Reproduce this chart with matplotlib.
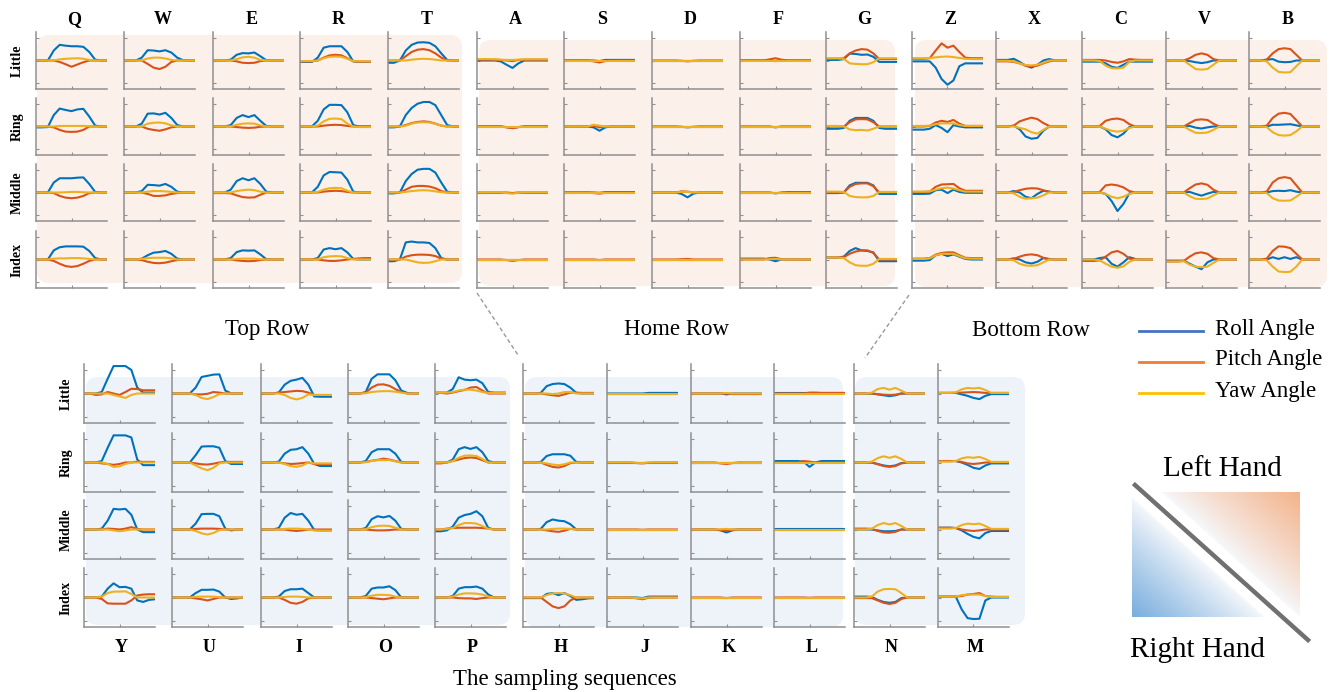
import numpy as np
import matplotlib.pyplot as plt
from matplotlib.patches import FancyBboxPatch
from matplotlib.lines import Line2D

plt.rcParams['font.family'] = ['Liberation Serif', 'DejaVu Serif']

# 13 samples per trace, values in units where 10 = half the panel height
SAMPLE_IDX = list(range(13))
FLAT = [0, 0, 0, 0, 0, 0, 0, 0, 0, 0, 0, 0, 0]

FINGERS = ['Little', 'Ring', 'Middle', 'Index']
ANGLES = ['Roll Angle', 'Pitch Angle', 'Yaw Angle']

# each key: 4 fingers (Little, Ring, Middle, Index) x [roll, pitch, yaw]
Q = [
    [[0, 0, 0, 3.5, 5.5, 5.2, 5, 5, 4.8, 3, 0.3, 0, 0], [0, 0, 0, 0, -0.5, -1.3, -2.2, -1.4, -0.6, 0, 0, 0, 0], [0, 0, 0, 0, 0.4, 0.6, 0.7, 0.8, 0.6, 0.2, 0, 0, 0]],
    [[-0.3, -0.3, -0.2, 4, 6.3, 5.8, 5.4, 6, 6.2, 3.5, 0.3, 0, 0], [0, 0, 0, -0.3, -1.2, -1.8, -1.9, -1.8, -1.2, 0, 0, 0, 0], [0, 0, 0, 0, 0.2, 0.2, 0.2, 0.2, 0.2, 0.1, 0, 0, 0]],
    [[0, 0, 0, 3.5, 5, 5, 5, 5.2, 5.3, 3, 0.2, 0, 0], [0, 0, 0, -0.2, -1.2, -1.8, -2, -1.8, -1.2, -0.2, 0, 0, 0], [0, 0, 0, 0, 0, 0.1, 0.2, 0.2, 0.1, 0, 0, 0, 0]],
    [[0, 0, 0, 3.2, 4.3, 4.6, 4.6, 4.6, 4.5, 3, 0.5, 0, 0], [0, 0, 0, -0.5, -1.5, -2.3, -2.6, -2.3, -1.5, -0.5, 0, 0, 0], [0, 0, 0, 0.3, 0.4, 0.4, 0.5, 0.5, 0.4, 0.2, 0, 0, 0]],
]
W_ = [
    [[0, 0, 0, 1, 3.6, 3.5, 3.2, 3.6, 2.8, 1, 0.1, 0, 0], [0, 0, 0, 0, -1.2, -2.5, -3, -2.2, -0.5, 0, 0, 0, 0], [0, 0, 0, 0, 0.7, 1, 1, 0.7, 0.2, 0, 0, 0, 0]],
    [[0, 0, 0, 1, 4.5, 4.6, 4.2, 4.8, 3, 0.5, 0, 0, 0], [0, 0, 0, 0, -0.8, -1.2, -1.5, -1, -0.3, 0, 0, 0, 0], [0, 0, 0, 0, 1, 1.3, 1.4, 1.1, 0.4, 0, 0, 0, 0]],
    [[0, 0, 0, 0.5, 2.7, 2.6, 2.4, 3, 2, 0.3, 0, 0, 0], [0, 0, 0, 0, -0.5, -1.2, -1.2, -1, -0.5, -0.2, 0, 0, 0], [0, 0, 0, 0, 0.3, 0.5, 0.5, 0.4, 0.2, 0, 0, 0, 0]],
    [[0, 0, 0, 0.3, 1.5, 2.4, 2.6, 3, 2, 0.3, 0, 0, 0], [0, 0, 0, -0.2, -0.8, -1.2, -1.3, -1.1, -0.6, -0.2, 0, 0, 0], [0, 0, 0, 0.2, 0.5, 0.6, 0.6, 0.6, 0.4, 0, 0, 0, 0]],
]
E = [
    [[0, 0, 0, 0.3, 2, 2.6, 2.5, 2.8, 1.5, 0.1, 0, 0, 0], [0, 0, 0, 0, -0.3, -0.8, -0.9, -0.8, -0.2, 0, 0, 0, 0], [0, 0, 0, 0, 0.5, 1.1, 1.3, 1, 0.2, 0, 0, 0, 0]],
    [[0, 0, 0, 0.5, 3, 4, 3.3, 4, 2, 0.2, 0, 0, 0], [0, 0, 0, 0, -0.2, -0.4, -0.5, -0.4, -0.1, 0, 0, 0, 0], [0, 0, 0, 0, 0.6, 1, 1.1, 1, 0.4, 0, 0, 0, 0]],
    [[0, 0, 0, 1, 4, 5, 4.3, 5, 3, 0.3, 0, 0, 0], [-0.2, -0.2, -0.2, -0.3, -1, -1.6, -1.8, -1.7, -0.8, 0, 0, 0, 0], [0, 0, 0, 0, 0.5, 0.8, 1, 0.8, 0.3, 0, 0, 0, 0]],
    [[0, 0, 0, 0.5, 2.6, 3.2, 3.1, 3.2, 1.8, 0.1, 0, 0, 0], [0, 0, 0, 0, -0.3, -0.5, -0.6, -0.5, -0.2, 0, 0, 0, 0], [0, 0, 0, 0, 0.2, 0.3, 0.3, 0.3, 0.1, 0, 0, 0, 0]],
]
R = [
    [[-0.5, -0.5, -0.5, 1, 4.5, 5, 5, 5, 3, -0.3, -0.5, -0.5, -0.5], [-0.3, -0.3, -0.3, 0, 1, 1.8, 2, 1.8, 0.8, -0.3, -0.4, -0.4, -0.4], [-0.2, -0.2, -0.2, 0, 0.8, 1.3, 1.4, 1.3, 0.6, -0.2, -0.3, -0.3, -0.3]],
    [[0, 0, 0, 2, 6, 7.6, 7.6, 7.5, 5, 0.5, 0, 0, 0], [0, 0, 0, 0, 0.3, 0.5, 0.6, 0.5, 0.2, 0, 0, 0, 0], [0, 0, 0, 0.3, 1.8, 2.7, 2.8, 2.6, 1, 0, -0.2, -0.2, -0.2]],
    [[0, 0, 0, 2, 6, 7.2, 7.1, 7, 4.5, 0.3, 0, 0, 0], [0, 0, 0, 0, 0.3, 0.5, 0.6, 0.5, 0.2, 0, 0, 0, 0], [0, 0, 0, 0.2, 1, 1.5, 1.6, 1.5, 0.6, 0, 0, 0, 0]],
    [[0, 0, 0, 0.5, 3.5, 4, 3.6, 4, 2.5, 0.2, 0, 0, 0], [0, 0, 0, 0, -0.3, -0.5, -0.5, -0.3, 0, 0.2, 0.4, 0.5, 0.5], [0, 0, 0, 0, 0.8, 1.1, 1.2, 1.1, 0.5, 0, 0, 0, 0]],
]
T = [
    [[-0.8, -0.8, 0, 3.5, 5.5, 6.3, 6.4, 6.2, 5, 2.5, 0.2, 0, 0], [0, 0, 0, 1.5, 3, 3.8, 4, 3.6, 2.5, 1, 0, 0, 0], [0, 0, 0, 0, 0.3, 0.5, 0.6, 0.5, 0.3, 0, 0, 0, 0]],
    [[-0.3, -0.3, 0, 4, 6.5, 8, 8.6, 8.6, 7.5, 4, 0.5, 0, 0], [0, 0, 0, 0.5, 1.2, 1.6, 1.8, 1.6, 1, 0.3, 0, 0, 0], [0, 0, 0, 0.3, 1, 1.4, 1.5, 1.4, 0.9, 0.3, 0, 0, 0]],
    [[-0.3, -0.3, 0, 4, 6.5, 8, 8.3, 8.3, 7, 3.5, 0.3, 0, 0], [0, 0, 0, 1, 2, 2.3, 2.3, 2.1, 1.5, 0.5, 0, 0, 0], [0, 0, 0, 0.2, 0.5, 0.7, 0.8, 0.7, 0.4, 0.1, 0, 0, 0]],
    [[-0.6, -0.6, 0, 6, 6.3, 6, 6, 5.8, 4, 0.5, 0, 0, 0], [0, 0, 0, 1, 1.5, 1.7, 1.7, 1.6, 1.2, 0.3, 0, 0, 0], [0, 0, 0, 0, -0.5, -1, -1.2, -1.1, -0.6, 0, 0, 0, 0]],
]
A = [
    [[0, 0, 0, 0, -0.3, -1.5, -2.6, -1, 0, 0, 0, 0, 0], [0.3, 0.3, 0.3, 0.3, 0.2, 0, -0.2, 0.2, 0.3, 0.3, 0.3, 0.3, 0.3], [0.5, 0.5, 0.5, 0.4, 0.3, 0.2, 0.2, 0.3, 0.4, 0.4, 0.4, 0.4, 0.4]],
    [[0, 0, 0, 0, 0, -0.2, -0.5, -0.2, 0, 0, 0, 0, 0], [0, 0, 0, 0, 0, -0.3, -0.6, -0.2, 0, 0, 0, 0, 0], FLAT],
    [FLAT, [0, 0, 0, 0, 0, 0, -0.2, 0, 0, 0, 0, 0, 0], [0, 0, 0, 0, 0, -0.2, -0.4, -0.1, 0, 0, 0, 0, 0]],
    [FLAT, [0, 0, 0, 0, 0, -0.2, -0.5, -0.2, 0, 0, 0, 0, 0], FLAT],
]
S = [
    [[0, 0, 0, 0, 0, 0, -0.2, 0.2, 0.2, 0.2, 0.2, 0.2, 0.2], [0, 0, 0, 0, 0, -0.3, -0.7, -0.2, 0, 0, 0, 0, 0], FLAT],
    [[0, 0, 0, 0, 0, -0.3, -1.5, -0.3, 0, 0, 0, 0, 0], [0, 0, 0, 0, 0, 0.3, -0.3, 0, 0, 0, 0, 0, 0], [0, 0, 0, 0, 0, 0.6, 0.3, 0, 0, 0, 0, 0, 0]],
    [[0, 0, 0, 0, 0, 0, -0.1, 0.1, 0.1, 0.1, 0.1, 0.1, 0.1], [0, 0, 0, 0, 0, -0.2, -0.4, -0.1, 0, 0, 0, 0, 0], FLAT],
    [FLAT, [0, 0, 0, 0, 0, 0, -0.2, 0, 0, 0, 0, 0, 0], FLAT],
]
D = [
    [FLAT, [0, 0, 0, 0, 0, -0.1, -0.3, -0.1, 0, 0, 0, 0, 0], FLAT],
    [[0, 0, 0, 0, 0, -0.1, -0.3, -0.1, 0, 0, 0, 0, 0], FLAT, FLAT],
    [[0, 0, 0, 0, 0, -0.5, -1.7, -0.4, 0, 0, 0, 0, 0], [0, 0, 0, 0, 0, 0.4, 0.3, 0, 0, 0, 0, 0, 0], [0, 0, 0, 0, 0, 0.2, 0.2, 0, 0, 0, 0, 0, 0]],
    [FLAT, [0, 0, 0, 0, 0, 0.1, 0.2, 0, 0, 0, 0, 0, 0], FLAT],
]
F = [
    [[0, 0, 0, 0, 0, 0, -0.2, 0, 0, 0, 0, 0, 0], [0, 0, 0, 0, 0, 0.4, 0.8, 0.3, 0, 0, 0, 0, 0], FLAT],
    [[0, 0, 0, 0, 0, 0, -0.3, 0, 0, 0, 0, 0, 0], FLAT, FLAT],
    [[0, 0, 0, 0, 0, 0, -0.3, 0, 0.1, 0.1, 0.1, 0.1, 0.1], FLAT, FLAT],
    [[0.3, 0.3, 0.3, 0.3, 0.3, 0, -0.6, 0, 0, 0, 0, 0, 0], [0, 0, 0, 0, 0, 0.5, 0.6, 0.1, 0, 0, 0, 0, 0], [0, 0, 0, 0, 0, 0.1, 0.2, 0, 0, 0, 0, 0, 0]],
]
G = [
    [[0.2, 0.2, 0.2, 0.5, 2.4, 2.3, 2, 2.1, 1.3, -0.5, -0.5, -0.5, -0.5], [0.6, 0.6, 0.6, 0.8, 2.5, 3.5, 4, 3.8, 2.5, 0.5, 0.5, 0.5, 0.5], [0.8, 0.8, 0.8, 0.6, -1, -1.2, -1.3, -1.3, -0.6, 0.8, 0.8, 0.8, 0.8]],
    [[-0.8, -0.8, -0.8, -0.5, 2, 3, 3, 3, 2, -0.5, -0.8, -0.8, -0.8], [0, 0, 0, 0, 1.5, 2.5, 2.6, 2.5, 1.5, 0, 0, 0, 0], [0.2, 0.2, 0.2, 0, -1, -1.3, -1.2, -1.4, -0.8, 0, 0, 0, 0]],
    [[-0.2, -0.2, -0.2, 0, 2.5, 3.4, 3.4, 3.4, 2.5, -0.5, -0.5, -0.5, -0.5], [0, 0, 0, 0, 2, 3, 3.2, 3.2, 2.2, 0, 0, 0, 0], [0.3, 0.3, 0.3, 0.2, -1.2, -1.6, -1.7, -1.7, -1.2, 0.2, 0.2, 0.2, 0.2]],
    [[0.7, 0.7, 0.7, 1, 3, 4, 3.2, 3, 2.5, -0.6, -0.6, -0.6, -0.6], [0.7, 0.7, 0.7, 0.8, 2, 2.8, 3.2, 3.2, 2.3, 0, 0, 0, 0], [0.7, 0.7, 0.7, 0.5, -1, -2, -2.2, -2.2, -1.5, 0.2, 0.2, 0.2, 0.2]],
]
Z = [
    [[-0.3, -0.3, -0.3, -0.3, -2.5, -6.5, -8.5, -7, -2, -1, -1, -1, -1], [0.6, 0.6, 0.6, 0.8, 3.5, 6, 4.5, 5.2, 3, 1, 0.8, 0.8, 0.8], [0.8, 0.8, 0.8, 0.9, 1.1, 1.3, 1.4, 1.2, 0.9, 0.6, 0.5, 0.5, 0.5]],
    [[-1.1, -1.1, -1.1, -0.8, 0.5, -0.5, -2, 0.5, 0, -0.3, -0.3, -0.3, -0.3], [0, 0, 0, 0.2, 1.4, 2, 1.6, 2.3, 1, 0.2, 0.2, 0.2, 0.2], [0.2, 0.2, 0.2, 0.3, 0.8, 1.1, 1.1, 1.1, 0.5, 0.2, 0.2, 0.2, 0.2]],
    [[-0.5, -0.5, -0.5, -0.4, 0.8, 1, -0.2, 1, 0.2, -0.1, -0.1, -0.1, -0.1], [0.2, 0.2, 0.2, 0.3, 2, 2.8, 2.9, 3, 1.5, 0.6, 0.6, 0.6, 0.6], [0.3, 0.3, 0.3, 0.4, 1, 1.5, 1.7, 1.4, 0.8, 0.3, 0.3, 0.3, 0.3]],
    [[-0.4, -0.4, -0.4, -0.2, 1.5, 2, 1.2, 1.8, 1, 0.2, 0, 0, 0], [0.3, 0.3, 0.3, 0.5, 1.7, 2.3, 2.5, 2.5, 1.5, 0.6, 0.5, 0.5, 0.5], [0.2, 0.2, 0.2, 0.4, 1.5, 2, 2, 2, 1.2, 0.4, 0.3, 0.3, 0.3]],
]
X = [
    [[0.2, 0.2, 0.2, 0.6, -0.5, -1.8, -2.5, -1.5, 0, 0.5, 0, 0, 0], [-0.3, -0.3, -0.3, -0.5, -1, -1.8, -2, -1.8, -1, -0.3, 0, 0, 0], [-0.1, -0.1, -0.1, -0.3, -1, -1.6, -1.7, -1.5, -0.8, 0, 0, 0, 0]],
    [[0, 0, 0, 0.3, -1, -3.5, -4.3, -4, -1.5, 0, 0, 0, 0], [0, 0, 0, 0.3, 1.8, 2.5, 3.1, 2.6, 1.2, 0.2, 0, 0, 0], [0, 0, 0, 0, -0.5, -1, -2, -2.5, -1.2, 0, 0, 0, 0]],
    [[0, 0, 0, 0.5, 0, -1.5, -2, -0.5, 0.6, 0.3, 0, 0, 0], [0, 0, 0, 0.2, 0.8, 1.3, 1.5, 1.4, 0.8, 0.2, 0, 0, 0], [0, 0, 0, -0.3, -1.5, -2.2, -2, -1.8, -1, 0, 0, 0, 0]],
    [[0, 0, 0, 0.4, 0, -1, -1.4, -0.8, 0.5, 0.2, 0, 0, 0], [0, 0, 0, 0.2, 1, 1.6, 1.8, 1.5, 0.6, 0, 0, 0, 0], [0, 0, 0, -0.3, -1.5, -2.1, -2.2, -2, -1, 0, 0, 0, 0]],
]
C = [
    [[-0.4, -0.4, -0.4, -0.4, -1, -2.2, -2.6, -1.5, -0.4, -0.4, -0.4, -0.4, -0.4], [0.2, 0.2, 0.2, 0.2, 0, -0.5, -0.8, -0.3, 0.5, 0.3, 0.2, 0.2, 0.2], [0, 0, 0, -0.2, -1.8, -2.7, -2.8, -2.5, -0.5, 0, 0, 0, 0]],
    [[0, 0, 0, 0, -1, -3, -3.8, -2.5, -0.2, 0, 0, 0, 0], [0, 0, 0, 0.2, 2, 2.6, 2.8, 2.3, 0.8, 0, 0, 0, 0], [0, 0, 0, 0, -0.8, -1.5, -1.8, -1.5, -0.5, 0, 0, 0, 0]],
    [[0, 0, 0, 0, -0.5, -3, -6.5, -4, -0.3, 0, 0, 0, 0], [0, 0, 0, 0.2, 2.5, 2.8, 2.5, 1.8, 0.5, 0, 0, 0, 0], [0, 0, 0, 0, -0.5, -1.5, -2, -1.5, -0.5, 0, 0, 0, 0]],
    [[0, 0, 0, 0.5, 0.8, -1.5, -2.5, -1, 0.8, 0.2, 0, 0, 0], [-0.5, -0.5, -0.5, -0.3, 1, 2.5, 3, 2, 0.3, 0, 0, 0, 0], [0, 0, 0, -0.3, -1.5, -2.5, -2.9, -2.4, -0.8, 0, 0, 0, 0]],
]
V = [
    [[0, 0, 0, 0, -0.2, -0.6, -0.9, -0.6, 0, 0, 0, 0, 0], [0, 0, 0, 0, 0.8, 2, 2.5, 2, 0.5, 0, 0, 0, 0], [0, 0, 0, 0, -1.5, -3, -3.2, -3, -1.5, 0, 0, 0, 0]],
    [[0, 0, 0, 0, 0.2, -0.4, -0.7, -0.3, 0, 0, 0, 0, 0], [0, 0, 0, 0, 1.2, 2.3, 2.5, 2.3, 1, 0, 0, 0, 0], [0, 0, 0, 0, -1.2, -2.2, -2.3, -2.1, -1.2, 0, 0, 0, 0]],
    [[0, 0, 0, 0, 0.2, -0.5, -1.1, -0.4, 0.2, 0, 0, 0, 0], [0, 0, 0, 0, 1.5, 2.8, 3.2, 2.7, 1, 0, 0, 0, 0], [0, 0, 0, 0, -1.3, -2.2, -2.3, -2.1, -1, 0, 0, 0, 0]],
    [[-0.4, -0.4, -0.4, -0.4, -1.5, -2.5, -3.4, -1, 0, 0, 0, 0, 0], [-0.7, -0.7, -0.7, -0.5, 1, 2.2, 2.5, 2, 0.5, 0, 0, 0, 0], [-0.7, -0.7, -0.7, -0.6, -1.8, -2.5, -2.7, -2.5, -1.2, 0, 0, 0, 0]],
]
B = [
    [[0, 0, 0, 0.3, 0.5, -0.4, -0.6, -0.5, 0, 0, 0, 0, 0], [0, 0, 0, 0.3, 2.5, 4, 4.3, 4, 2, 0, 0, 0, 0], [0, 0, 0, -0.3, -2.5, -4, -4.2, -4.1, -2, 0, 0, 0, 0]],
    [[0, 0, 0, 0, 0.6, 0.6, 0.7, 0.8, 0.4, 0, 0, 0, 0], [0, 0, 0, 0.3, 3, 4.5, 4.8, 4.4, 2.2, 0, 0, 0, 0], [0, 0, 0, -0.2, -2, -3, -3.2, -3, -1.7, 0, 0, 0, 0]],
    [[0, 0, 0, 0, 0.5, 0.6, 0.5, 0.8, 0.3, 0, 0, 0, 0], [0, 0, 0, 0.3, 3.5, 5, 5.4, 5, 2.5, 0, 0, 0, 0], [0, 0, 0, -0.2, -2, -2.8, -2.9, -2.8, -1.5, 0, 0, 0, 0]],
    [[0, 0, 0, 0, 0.8, 0.2, 0.8, 0.2, 0.8, 0, 0, 0, 0], [0, 0, 0, 0.3, 3, 4.6, 4.5, 4, 2, 0, 0, 0, 0], [0, 0, 0, -0.3, -2.5, -4.2, -4.4, -4.3, -2.5, 0, 0, 0, 0]],
]
Y = [
    [[0, 0, 0, 0.5, 5, 9.3, 9.3, 9.3, 8, 2, 0.3, 0.3, 0.3], [0, 0, -0.5, -0.3, 0.5, 0, -0.5, 0.5, 1.6, 1.5, 1.1, 1.1, 1.1], [0, 0, 0, 0, 0, -0.5, -1, -1.5, -0.5, 0, 0, 0, 0]],
    [[0, 0, 0, 0.5, 5, 9.2, 9.2, 9.2, 8.5, 1, -0.9, -0.9, -0.9], [0, 0, 0, -0.3, -0.5, -0.8, -0.5, 0, 0, 0.3, 0.2, 0.2, 0.2], [0, 0, 0, 0, -0.5, -1.5, -1.3, -0.5, 0, 0, 0, 0, 0]],
    [[0, 0, 0, 0.3, 3, 7, 6.8, 7, 5, 0, -0.9, -0.9, -0.9], [0, 0, 0, 0, 0.3, 0.2, 0, 0.3, 0.8, 0.2, 0, 0, 0], [0, 0, 0, 0, 0, -0.3, -0.6, -0.3, 0, 0, 0, 0, 0]],
    [[0, 0, 0, 0.3, 3, 4.8, 3.5, 3.6, 3, -1, -1.5, -0.8, -0.6], [0, 0, 0, -0.5, -2, -2.1, -2.1, -2.1, -1, 0.7, 1, 1.1, 1.1], [0, 0, 0, 0.3, 1.5, 2, 2, 2.1, 1.2, 0, 0, 0, 0]],
]
U = [
    [[0, 0, 0, 0, 2, 5.6, 6, 6.4, 6.5, 1, 0, 0, 0], [0, 0, 0, 0, -0.3, -0.3, -0.1, 0.5, 0.3, 0, 0, 0, 0], [0, 0, 0, 0, -0.5, -1.5, -1.9, -1.2, -0.2, 0, 0, 0, 0]],
    [[0, 0, 0, 0, 2.5, 5.4, 5.5, 5.5, 5, 0.5, -0.5, -0.5, -0.5], [0, 0, 0, 0, -0.3, -0.6, -0.7, -0.4, 0, 0.2, 0.2, 0.2, 0.2], [0, 0, 0, 0, -1, -2, -2.6, -1.8, -0.3, 0, 0, 0, 0]],
    [[0, 0, 0, 0, 2, 5.2, 5.3, 5.3, 4.5, 0.3, -0.3, 0, 0], [0, 0, 0, 0, 0.2, 0.3, 0.3, 0.3, 0.2, 0, 0, 0, 0], [0, 0, 0, 0, -0.5, -1.3, -1.7, -1.2, -0.2, 0, 0, 0, 0]],
    [[0, 0, 0, 0, 1.5, 2.6, 2.6, 2.7, 2, 0, -0.5, -0.3, 0], [0, 0, 0, 0, -0.3, -0.6, -1, -0.5, 0, 0, 0, 0, 0], [0, 0, 0, 0, 0.2, 0.3, 0.3, 0.3, 0.1, 0, 0, 0, 0]],
]
I = [
    [[0, 0, 0, 0.3, 3, 4.3, 4.7, 5.3, 3, -1, -1.1, -1.1, -1.1], [0, 0, 0, 0.3, 0.5, 0.7, 0.9, 0.8, 0.3, -0.5, -0.5, -0.5, -0.5], [0, 0, 0, 0, -0.5, -1.5, -2, -1.5, -0.3, -0.5, -0.5, -0.5, -0.5]],
    [[0, 0, 0, 0.3, 3, 4.3, 4.5, 5.2, 3, -0.5, -1.2, -1.2, -1.2], [0, 0, 0, 0, -0.3, -0.5, -0.4, -0.2, 0, -0.5, -0.6, -0.6, -0.6], [0, 0, 0, 0, -0.5, -1.2, -1.5, -1, 0, -0.3, -0.3, -0.3, -0.3]],
    [[0, 0, 0, 0.5, 4, 5.6, 5, 5.3, 3, -0.2, -0.3, -0.3, -0.3], [0, 0, 0, 0, 0, -0.3, -0.5, -0.3, 0, 0, 0, 0, 0], [0, 0, 0, 0, 0.2, 0.3, 0.3, 0.2, 0, -0.3, -0.4, -0.4, -0.4]],
    [[0, 0, 0, 0.3, 2.2, 2.8, 2.8, 3, 1.5, 0, 0, 0, 0], [0, 0, 0, 0, -0.8, -1.8, -2.1, -1.5, -0.3, 0, 0, 0, 0], [0, 0, 0, 0, 0.2, 0.3, 0.3, 0.2, 0, 0, 0, 0, 0]],
]
O = [
    [[0, 0, 0, 0.5, 5, 6.5, 6.5, 6.5, 4.5, 1, 0.2, 0, 0], [0, 0, 0, 0.3, 2, 3, 3.1, 2.6, 1.5, 0.5, 0, 0, 0], [0, 0, 0, 0.1, 0.5, 0.7, 0.8, 0.8, 0.6, 0.3, 0, 0, 0]],
    [[0, 0, 0, 0.5, 3.5, 4.5, 4.5, 4.5, 3, 0.2, 0, 0, 0], [0, 0, 0, 0.2, 0.6, 0.9, 1.3, 1, 0.5, 0, 0, 0, 0], [0, 0, 0, 0.1, 0.5, 0.8, 0.8, 0.8, 0.4, 0, 0, 0, 0]],
    [[0, 0, 0, 0.5, 3.5, 4.5, 4.1, 4.6, 3, 0.2, 0, 0, 0], [0, 0, 0, 0, -0.2, -0.3, -0.3, -0.2, 0, 0, 0, 0, 0], [0, 0, 0, 0.1, 0.8, 1.2, 1.3, 1.2, 0.6, 0, 0, 0, 0]],
    [[0, 0, 0, 0.5, 3, 3.4, 3.4, 3.8, 2.5, 0, 0, 0, 0], [0, 0, 0, 0, -0.2, -0.4, -0.6, -0.3, 0, 0, 0, 0, 0], [0, 0, 0, 0.1, 0.6, 0.9, 0.9, 0.8, 0.3, 0, 0, 0, 0]],
]
P = [
    [[0.3, 0.3, 0.3, 1.5, 5.5, 4.7, 4.5, 4.7, 3.5, 0.5, 0.3, 0.3, 0.3], [0.2, 0.2, 0, 0.3, 0.8, 1.2, 2, 2.2, 1, 0, 0, 0, 0], [0.3, 0.3, 0.3, 0.5, 1, 1.3, 1.3, 1, 0.5, 0.2, 0.2, 0.2, 0.2]],
    [[0, 0, 0, 1, 4.5, 5.2, 4.6, 5.2, 3.5, 0.5, 0, 0, 0], [-0.3, -0.3, 0, 0.5, 1, 1.5, 1.7, 1.5, 0.8, 0, 0, 0, 0], [0, 0, 0, 0.5, 1.6, 2.3, 2.4, 2.2, 1.2, 0, 0, 0, 0]],
    [[-0.6, -0.6, -0.3, 1, 4, 4.9, 5.3, 6.2, 4.5, 0.5, 0, 0, 0], [0, 0, 0.3, 0.5, 0.6, 0.6, 0.6, 0.6, 0.5, 0.3, 0, 0, 0], [0, 0, 0.2, 0.5, 1.5, 2.2, 2.2, 2, 1.2, 0.2, 0, 0, 0]],
    [[0, 0, 0, 0.5, 3, 3.5, 3.5, 3.7, 3, 1, 0, 0, 0], [0, 0, 0, 0, -0.2, -0.3, -0.3, -0.5, -0.2, 0, 0, 0, 0], [0, 0, 0, 0.3, 1, 1.4, 1.4, 1.3, 1, 0.3, 0, 0, 0]],
]
H = [
    [[0, 0, 0, 0.2, 2.5, 3.2, 3.4, 3.2, 2, 0.2, 0, 0, 0], [0, 0, 0, 0, -0.3, -0.6, -0.8, -0.3, 0.3, 0.3, 0.2, 0.2, 0.2], [0, 0, 0, 0, 0, -0.2, 0, 0.5, 0.5, 0, 0, 0, 0]],
    [[0, 0, 0, 0.2, 2.2, 2.8, 2.8, 2.8, 2.3, 0.2, 0, 0, 0], [0, 0, 0, 0, -0.8, -1.5, -1.7, -1.2, -0.2, 0, 0, 0, 0], [0, 0, 0, 0, -0.3, -0.7, -0.9, -0.6, 0, 0, 0, 0, 0]],
    [[0, 0, 0, 0.2, 2.5, 3.4, 3, 2.8, 1.8, 0, 0, 0, 0], [0, 0, 0, 0, -0.3, -0.6, -0.8, -0.4, 0.2, 0, 0, 0, 0], [0, 0, 0, 0, 0, 0.2, 0.3, 0.3, 0.2, 0, 0, 0, 0]],
    [[-0.2, -0.2, -0.2, -0.2, 1.2, 1.5, 0.8, 1.5, 0.5, -0.8, -0.6, -0.3, -0.2], [0, 0, 0, 0, -1.5, -3, -3.6, -3, -1, 0, 0, 0, 0], [0, 0, 0, 0, 0.8, 1.4, 1.5, 1.4, 0.8, 0, 0, 0, 0]],
]
J = [
    [[0, 0, 0, 0, 0, 0, 0, 0.2, 0.2, 0.2, 0.2, 0.2, 0.2], FLAT, FLAT],
    [FLAT, [0, 0, 0, 0, 0, -0.2, -0.3, -0.1, 0, 0, 0, 0, 0], [0, 0, 0, 0, 0, -0.1, -0.2, 0, 0, 0, 0, 0, 0]],
    [FLAT, [0, 0, 0, 0, 0, 0, -0.1, 0, 0, 0, 0, 0, 0], FLAT],
    [[0, 0, 0, 0, 0, 0, -0.2, 0.3, 0.3, 0.3, 0.3, 0.3, 0.3], [0, 0, 0, 0, 0, -0.3, -0.6, -0.1, 0, 0, 0, 0, 0], [0, 0, 0, 0, 0, -0.2, -0.3, 0, 0, 0, 0, 0, 0]],
]
K = [
    [[0, 0, 0, 0, 0, 0, -0.3, 0, 0, 0, 0, 0, 0], [0, 0, 0, 0, 0, 0, 0, -0.2, -0.2, -0.2, -0.2, -0.2, -0.2], [0, 0, 0, 0, 0, 0, 0.2, 0, 0, 0, 0, 0, 0]],
    [FLAT, [0, 0, 0, 0, 0, -0.3, -0.5, -0.2, 0, 0, 0, 0, 0], FLAT],
    [[0, 0, 0, 0, 0, -0.3, -1, -0.3, 0, 0, 0, 0, 0], [0, 0, 0, 0, 0, -0.2, -0.3, 0, 0, 0, 0, 0, 0], [0, 0, 0, 0, 0, 0.1, 0.2, 0, 0, 0, 0, 0, 0]],
    [FLAT, [0, 0, 0, 0, 0, 0, -0.2, 0, 0, 0, 0, 0, 0], FLAT],
]
L = [
    [[0.3, 0.3, 0.3, 0.3, 0.3, 0.3, 0.3, 0.3, 0.3, 0.3, 0.3, 0.3, 0.3], [0, 0, 0, 0, 0, 0, 0.3, 0.3, 0.2, 0.2, 0.2, 0.2, 0.2], FLAT],
    [[0.5, 0.5, 0.5, 0.5, 0.5, 0.3, -1.5, 0, 0.5, 0.5, 0.5, 0.5, 0.5], [0, 0, 0, 0, 0, 0.5, 0.3, 0, 0, 0, 0, 0, 0], [-0.1, -0.1, -0.1, -0.1, -0.1, -0.1, -0.1, -0.1, -0.1, -0.1, -0.1, -0.1, -0.1]],
    [[0.1, 0.1, 0.1, 0.1, 0.1, 0.1, 0.1, 0.1, 0.1, 0.1, 0.1, 0.1, 0.1], FLAT, FLAT],
    [FLAT, [0, 0, 0, 0, 0, 0, -0.1, 0, 0, 0, 0, 0, 0], FLAT],
]
N = [
    [[0, 0, 0, 0, -0.3, -0.6, -0.9, -0.6, 0, 0, 0, 0, 0], [0, 0, 0, 0, -0.2, -0.4, -0.5, -0.4, 0, 0, 0, 0, 0], [0, 0, 0, 0.3, 1.5, 1.9, 1.3, 1.9, 1, 0, 0, 0, 0]],
    [[0, 0, 0, 0, -0.5, -1, -1.3, -1, -0.2, 0, 0, 0, 0], [0, 0, 0, 0, -0.6, -1.2, -1.5, -1.2, -0.3, 0, 0, 0, 0], [0, 0, 0, 0.3, 1.5, 2.1, 1.6, 2.1, 1.2, 0, 0, 0, 0]],
    [[0, 0, 0, 0, -0.3, -0.6, -0.6, -0.5, 0, 0, 0, 0, 0], [0.3, 0.3, 0.3, 0.2, -0.5, -1, -1.1, -0.8, 0, 0, 0, 0, 0], [0, 0, 0, 0.3, 1.5, 2.2, 1.7, 2.2, 1.2, 0, 0, 0, 0]],
    [[0.3, 0.3, 0.3, 0.2, -0.8, -1.5, -1.8, -1.5, -0.2, 0, 0, 0, 0], [-0.2, -0.2, -0.2, -0.2, -1, -1.8, -2.2, -1.8, -0.5, 0, 0, 0, 0], [0, 0, 0, 0.3, 2, 2.8, 2.9, 2.8, 1.5, 0, 0, 0, 0]],
]
M = [
    [[0.2, 0.2, 0.2, 0.2, -0.3, -0.8, -1.5, -1.9, -0.8, -0.2, -0.2, -0.2, -0.2], [0.2, 0.2, 0.2, 0.2, 0.3, 0.4, 0.5, 0.4, 0.2, 0.2, 0.2, 0.2, 0.2], [0.2, 0.2, 0.2, 0.4, 1.4, 1.9, 1.7, 1.9, 1.2, 0.2, 0.2, 0.2, 0.2]],
    [[0.5, 0.5, 0.5, 0.5, 0, -0.8, -1.8, -2.2, -1, -0.3, -0.3, -0.3, -0.3], [0.5, 0.5, 0.5, 0.5, 0.2, -0.3, -0.5, -0.3, 0, 0, 0, 0, 0], [0.3, 0.3, 0.3, 0.5, 1.4, 1.8, 1.6, 1.9, 1.2, 0.2, 0.2, 0.2, 0.2]],
    [[0.6, 0.6, 0.6, 0.5, -0.3, -1.5, -2.5, -3, -1.2, -0.5, -0.5, -0.5, -0.5], [0.6, 0.6, 0.6, 0.5, 0, -0.3, -0.5, -0.3, 0, 0, 0, 0, 0], [0.3, 0.3, 0.3, 0.5, 1.5, 2, 1.8, 2, 1.2, 0.2, 0.2, 0.2, 0.2]],
    [[0.3, 0.3, 0.3, 0.3, -4, -7, -7.3, -7.2, -1, 0, 0, 0, 0], [0.3, 0.3, 0.3, 0.3, 0.5, 1, 1.2, 1.5, 0.5, 0.3, 0.2, 0.2, 0.2], [0.3, 0.3, 0.3, 0.3, 0.8, 1, 1, 1, 0.5, 0.2, 0.2, 0.2, 0.2]],
]

KEYS = {'Q': Q, 'W': W_, 'E': E, 'R': R, 'T': T, 'A': A, 'S': S, 'D': D, 'F': F, 'G': G,
        'Z': Z, 'X': X, 'C': C, 'V': V, 'B': B, 'Y': Y, 'U': U, 'I': I, 'O': O, 'P': P,
        'H': H, 'J': J, 'K': K, 'L': L, 'N': N, 'M': M}

LINE_COLORS = ['#0072BD', '#D95319', '#EDB120']
LEGEND_COLORS = ['#4472C4', '#ED7D31', '#FFC000']
AXIS_GRAY = '#8f8f8f'

FW, FH = 1339, 692
fig = plt.figure(figsize=(FW / 100, FH / 100), dpi=100)


def px_rect(x, y, w, h):
    return [x / FW, 1 - (y + h) / FH, w / FW, h / FH]


def fx(x):
    return x / FW


def fy(y):
    return 1 - y / FH


def background(x0, y0, x1, y1, color):
    r = 12
    patch = FancyBboxPatch((fx(x0 + r), fy(y1 - r)), fx(x1 - x0 - 2 * r), (y1 - y0 - 2 * r) / FH,
                           boxstyle=f"round,pad={r / FW}", transform=fig.transFigure,
                           facecolor=color, edgecolor='none', zorder=-5,
                           mutation_aspect=FW / FH)
    fig.patches.append(patch)


def draw_panel(ax, traces):
    for vals, col in zip(traces, LINE_COLORS):
        ax.plot(SAMPLE_IDX, vals, color=col, lw=1.5, solid_joinstyle='round', solid_capstyle='round')
    ax.set_xlim(0, 12)
    ax.set_ylim(-10, 10)
    ax.set_facecolor('none')
    for side in ['top', 'right']:
        ax.spines[side].set_visible(False)
    for side in ['left', 'bottom']:
        ax.spines[side].set_color(AXIS_GRAY)
        ax.spines[side].set_linewidth(1.1)
    ax.set_xticks([6])
    ax.set_yticks([-8, 0, 8])
    ax.tick_params(direction='in', length=2, width=0.8, color=AXIS_GRAY,
                   labelleft=False, labelbottom=False)


# backgrounds (left hand = peach, right hand = blue)
PEACH = '#FBF0EA'
BLUE = '#EEF3FA'
background(37, 35, 462, 283, PEACH)
background(479, 40, 895, 286, PEACH)
background(915, 40, 1327, 287, PEACH)
background(86, 377, 510, 625, BLUE)
background(525, 377, 843, 627, BLUE)
background(855, 377, 1025, 625, BLUE)

top_groups = [('QWERT', [36, 124, 213, 300, 388]),
              ('ASDFG', [477, 564, 652, 740, 826]),
              ('ZXCVB', [912, 996, 1082, 1166, 1249])]
top_rows = [32, 98, 164, 231]
bottom_groups = [('YUIOP', [84, 172, 261, 348, 435]),
                 ('HJKL', [523, 607, 691, 774]),
                 ('NM', [854, 938])]
bottom_rows = [364, 433, 500, 568]
pw = 71

for letters, lefts in top_groups:
    for key, x0 in zip(letters, lefts):
        for fi, y0 in enumerate(top_rows):
            ax = fig.add_axes(px_rect(x0, y0, pw, 57))
            draw_panel(ax, KEYS[key][fi])
        fig.text(fx(x0 + pw / 2 + 3), fy(20), key, ha='center', va='center',
                 fontsize=13, fontweight='bold')

for letters, lefts in bottom_groups:
    for key, x0 in zip(letters, lefts):
        for fi, y0 in enumerate(bottom_rows):
            ax = fig.add_axes(px_rect(x0, y0, pw, 59))
            draw_panel(ax, KEYS[key][fi])
        fig.text(fx(x0 + pw / 2 + 2), fy(647), key, ha='center', va='center',
                 fontsize=13, fontweight='bold')

for fi, name in enumerate(FINGERS):
    fig.text(fx(17), fy(top_rows[fi] + 29), name, rotation=90, ha='center', va='center',
             fontsize=10, fontweight='bold')
    fig.text(fx(66), fy(bottom_rows[fi] + 30), name, rotation=90, ha='center', va='center',
             fontsize=10, fontweight='bold')

# section titles
fig.text(fx(267), fy(329), 'Top Row', ha='center', va='center', fontsize=16.5)
fig.text(fx(677), fy(329), 'Home Row', ha='center', va='center', fontsize=16.5)
fig.text(fx(1031), fy(331), 'Bottom Row', ha='center', va='center', fontsize=16.5)
fig.text(fx(565), fy(679), 'The sampling sequences', ha='center', va='center', fontsize=16.5)

# dashed connectors from home row to H...L block
for (xa, ya), (xb, yb) in [((477, 293), (518, 355)), ((909, 295), (865, 358))]:
    fig.add_artist(Line2D([fx(xa), fx(xb)], [fy(ya), fy(yb)], transform=fig.transFigure,
                          color='#999999', lw=1, ls=(0, (3, 2))))

# legend
for i, (lab, col) in enumerate(zip(ANGLES, LEGEND_COLORS)):
    yy = 331 + 31 * i
    fig.add_artist(Line2D([fx(1139), fx(1203)], [fy(yy), fy(yy)], transform=fig.transFigure,
                          color=col, lw=2))
    fig.text(fx(1215), fy(yy - 2), lab, ha='left', va='center', fontsize=16.5)

# hand colour key
hx0, hy0, hx1, hy1 = 1132, 492, 1300, 617
ax_h = fig.add_axes(px_rect(hx0, hy0, hx1 - hx0, hy1 - hy0))
gx, gy = np.meshgrid(np.linspace(hx0, hx1, 240), np.linspace(hy0, hy1, 180))
line_y = 485 + 0.896 * (gx - 1135)
dist = line_y - gy
gap = 16
t_up = np.clip((dist - gap) / (140 - gap), 0, 1) ** 0.9
t_lo = np.clip((-dist - gap) / (135 - gap), 0, 1) ** 0.9
base = np.array([0.965, 0.972, 0.985])
orange = np.array([0.957, 0.70, 0.54])
blue = np.array([0.47, 0.68, 0.87])
img = np.ones(gx.shape + (3,))
up = dist > gap
lo = dist < -gap
img[up] = base * (1 - t_up[up, None]) + orange * t_up[up, None]
img[lo] = base * (1 - t_lo[lo, None]) + blue * t_lo[lo, None]
ax_h.imshow(img, extent=[0, 1, 0, 1], aspect='auto', origin='upper', interpolation='bilinear')
ax_h.axis('off')
fig.add_artist(Line2D([fx(1135), fx(1308)], [fy(485), fy(640)], transform=fig.transFigure,
                      color='#707070', lw=3.2, zorder=5))
fig.text(fx(1222), fy(469), 'Left Hand', ha='center', va='center', fontsize=21)
fig.text(fx(1197), fy(650), 'Right Hand', ha='center', va='center', fontsize=21)

fig.savefig('out.png', dpi=100, facecolor='white')
